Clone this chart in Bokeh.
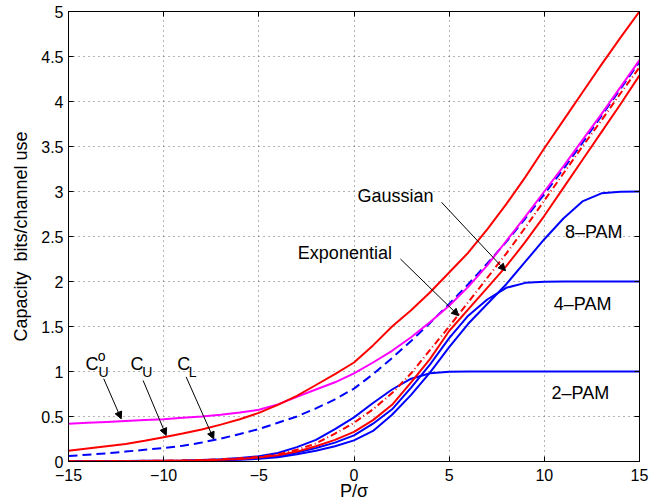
from bokeh.plotting import figure
from bokeh.models import LinearAxis, Label, Arrow, NormalHead, FixedTicker, Range1d
from bokeh.embed import file_html
from bokeh.resources import INLINE

# ---------------- data ----------------
snr = list(range(-15, 16))  # P/sigma

c_u = [0.12, 0.145, 0.17, 0.195, 0.23, 0.27, 0.31, 0.355, 0.41, 0.47, 0.54, 0.63, 0.73, 0.85, 0.97,
       1.1, 1.29, 1.5, 1.68, 1.88, 2.1, 2.32, 2.58, 2.86, 3.16, 3.48, 3.79, 4.1, 4.41, 4.71, 5.0]
c_uo = [0.42, 0.43, 0.44, 0.45, 0.46, 0.47, 0.485, 0.5, 0.52, 0.545, 0.575, 0.635, 0.72, 0.8, 0.88,
        0.98, 1.1, 1.23, 1.38, 1.55, 1.73, 1.94, 2.18, 2.45, 2.72, 3.0, 3.28, 3.57, 3.86, 4.16, 4.46]
c_l = [0.06, 0.075, 0.09, 0.11, 0.13, 0.15, 0.175, 0.21, 0.255, 0.305, 0.36, 0.43, 0.5, 0.59, 0.69,
       0.81, 0.97, 1.15, 1.34, 1.54, 1.75, 1.97, 2.2, 2.44, 2.7, 2.97, 3.25, 3.54, 3.84, 4.14, 4.44]
expo = [0.002, 0.003, 0.004, 0.005, 0.007, 0.009, 0.012, 0.017, 0.025, 0.035, 0.05, 0.08, 0.13, 0.2, 0.31,
        0.43, 0.58, 0.76, 0.98, 1.24, 1.5, 1.77, 2.04, 2.31, 2.6, 2.9, 3.2, 3.5, 3.79, 4.09, 4.38]
gauss = [0.001, 0.002, 0.003, 0.004, 0.005, 0.007, 0.009, 0.013, 0.019, 0.029, 0.045, 0.07, 0.11, 0.17, 0.24,
         0.33, 0.46, 0.63, 0.88, 1.14, 1.45, 1.69, 1.93, 2.17, 2.44, 2.73, 3.04, 3.35, 3.66, 3.97, 4.29]
pam2 = [0.002, 0.003, 0.004, 0.005, 0.007, 0.009, 0.012, 0.017, 0.025, 0.038, 0.058, 0.095, 0.16, 0.24, 0.36,
        0.49, 0.65, 0.8, 0.92, 0.98, 0.997, 1.0, 1.0, 1.0, 1.0, 1.0, 1.0, 1.0, 1.0, 1.0, 1.0]
pam4 = [0.001, 0.001, 0.002, 0.003, 0.004, 0.005, 0.007, 0.01, 0.016, 0.024, 0.037, 0.06, 0.1, 0.15, 0.21,
        0.29, 0.42, 0.58, 0.82, 1.08, 1.37, 1.62, 1.8, 1.93, 1.985, 1.998, 2.0, 2.0, 2.0, 2.0, 2.0]
pam8 = [0.001, 0.001, 0.002, 0.002, 0.003, 0.004, 0.006, 0.008, 0.013, 0.019, 0.03, 0.048, 0.08, 0.12, 0.17,
        0.235, 0.34, 0.52, 0.74, 0.99, 1.27, 1.53, 1.75, 1.97, 2.22, 2.47, 2.7, 2.89, 2.98, 2.998, 3.0]

x_ticks = [-15, -10, -5, 0, 5, 10, 15]
x_tick_labels = ["\u221215", "\u221210", "\u22125", "0", "5", "10", "15"]
y_ticks = [0, 0.5, 1, 1.5, 2, 2.5, 3, 3.5, 4, 4.5, 5]
y_tick_labels = ["0", "0.5", "1", "1.5", "2", "2.5", "3", "3.5", "4", "4.5", "5"]

FONT = "Liberation Sans"

p = figure(width=670, height=503, x_range=Range1d(-15, 15), y_range=Range1d(0, 5),
           output_backend="svg", toolbar_location=None,
           min_border_left=68, min_border_right=31, min_border_top=11, min_border_bottom=42)
p.background_fill_color = "white"
p.border_fill_color = "white"
p.outline_line_color = "black"

xt = FixedTicker(ticks=x_ticks)
yt = FixedTicker(ticks=y_ticks)

def style_axis(ax, ticker, labels):
    ax.ticker = ticker
    ax.major_tick_in = 5
    ax.major_tick_out = 0
    ax.minor_tick_line_color = None
    ax.axis_line_color = "black"
    ax.major_tick_line_color = "black"
    ax.major_label_text_font = FONT
    ax.major_label_text_font_size = "16px"
    ax.major_label_text_color = "black"
    ax.axis_label_text_font = FONT
    ax.axis_label_text_font_size = "18px"
    ax.axis_label_text_font_style = "normal"
    ax.axis_label_text_color = "black"
    ax.major_label_overrides = labels

style_axis(p.xaxis[0], xt, {t: s for t, s in zip(x_ticks, x_tick_labels)})
style_axis(p.yaxis[0], yt, {t: s for t, s in zip(y_ticks, y_tick_labels)})
p.xaxis[0].axis_label = "P/\u03c3"
p.xaxis[0].major_label_standoff = 7
p.xaxis[0].axis_label_standoff = -3
p.yaxis[0].axis_label = "Capacity\u00a0 bits/channel use"
p.yaxis[0].major_label_standoff = 5
p.yaxis[0].axis_label_standoff = 7

for loc, tk in (("above", x_ticks), ("right", y_ticks)):
    ax = LinearAxis()
    style_axis(ax, FixedTicker(ticks=tk), {t: "" for t in tk})
    ax.major_label_text_font_size = "1px"
    ax.major_label_standoff = 0
    p.add_layout(ax, loc)

p.xgrid.ticker = xt
p.ygrid.ticker = yt
for g in (p.xgrid, p.ygrid):
    g.grid_line_color = "#444444"
    g.grid_line_dash = "1 4"
    g.grid_line_width = 1
    g.grid_line_alpha = 0.8

# ---------------- curves ----------------
LW = 2
p.line(snr, pam2, line_color="#0000ff", line_width=LW)
p.line(snr, pam4, line_color="#0000ff", line_width=LW)
p.line(snr, pam8, line_color="#0000ff", line_width=LW)
p.line(snr, gauss, line_color="#ff0000", line_width=LW)
p.line(snr, expo, line_color="#ff0000", line_width=LW, line_dash="7 3 1 3")
p.line(snr, c_l, line_color="#0000ff", line_width=LW, line_dash="9 5")
p.line(snr, c_uo, line_color="#ff00ff", line_width=LW)
p.line(snr, c_u, line_color="#ff0000", line_width=LW)

# ---------------- annotations ----------------
def txt(x, y, s, size="18px"):
    p.add_layout(Label(x=x, y=y, text=s, text_font=FONT, text_font_size=size,
                       text_color="black", text_baseline="alphabetic", text_align="left"))

def arrow(x0, y0, x1, y1):
    p.add_layout(Arrow(end=NormalHead(size=7, fill_color="black", line_color="black", line_width=1),
                       x_start=x0, y_start=y0, x_end=x1, y_end=y1,
                       line_color="black", line_width=1))

txt(0.18, 2.95, "Gaussian")
txt(-2.95, 2.32, "Exponential")
txt(11.08, 2.55, "8\u2013PAM")
txt(10.5, 1.755, "4\u2013PAM")
txt(10.38, 0.765, "2\u2013PAM")

txt(-14.11, 1.08, "C")
txt(-13.43, 0.99, "U", "14px")
txt(-13.46, 1.175, "o", "14px")
txt(-11.74, 1.08, "C")
txt(-11.13, 0.99, "U", "14px")
txt(-9.29, 1.08, "C")
txt(-8.68, 0.99, "L", "14px")

arrow(-13.15, 0.92, -12.23, 0.474)
arrow(-11.08, 0.90, -9.87, 0.29)
arrow(-8.82, 0.94, -7.37, 0.25)
arrow(4.6, 2.88, 7.96, 2.12)
arrow(2.44, 2.25, 5.5, 1.62)

open("out.html", "w").write(file_html(p, INLINE))
